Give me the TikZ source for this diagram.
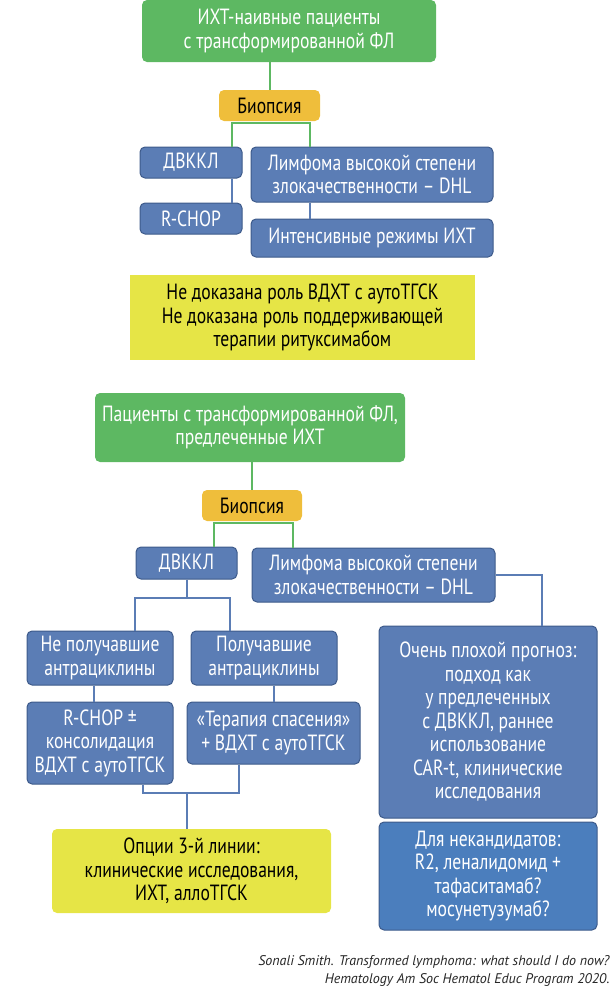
\documentclass[tikz,border=0pt]{standalone}
\usepackage{fontspec}
\setmainfont{PT Sans}[FakeStretch=0.8]
\newfontfamily\citefont{PT Sans}
\usetikzlibrary{calc}
\definecolor{mygreen}{HTML}{5DB862}
\definecolor{myorange}{HTML}{EFBE3B}
\definecolor{myblue}{HTML}{5B7DB5}
\definecolor{mydarkblue}{HTML}{3D5A8A}
\definecolor{mysteel}{HTML}{4B7EBD}
\definecolor{myyellow}{HTML}{E6E546}
\tikzset{
  box/.style={rounded corners=5pt, align=center, inner sep=1pt, text=white,
              font=\fontsize{22}{23.5}\selectfont},
  greenbox/.style={box, fill=mygreen},
  orangebox/.style={box, fill=myorange, text=black},
  bluebox/.style={box, fill=myblue, draw=mydarkblue, line width=1pt},
  steelbox/.style={box, fill=mysteel, draw=mydarkblue, line width=1pt},
  yellowbox/.style={box, fill=myyellow, text=black},
  gline/.style={draw=mygreen, line width=2pt},
  bline/.style={draw=myblue, line width=2pt},
  cite/.style={align=right, text=black!85, font=\citefont\itshape\fontsize{14}{18}\selectfont},
}
\begin{document}
\begin{tikzpicture}[x=1pt, y=-1pt]
  \useasboundingbox (0,0) rectangle (615,996);
  % treatment-naive patients
  \node[greenbox, minimum width=294pt, minimum height=62pt] (g1) at (289,31) {ИХТ-наивные пациенты\\с трансформированной ФЛ};
  \node[orangebox, minimum width=101pt, minimum height=31pt] (b1) at (269.5,105.5) {Биопсия};
  \node[bluebox, minimum width=102pt, minimum height=31pt] (d1) at (191,162.5) {ДВККЛ};
  \node[bluebox, minimum width=102pt, minimum height=31pt] (r1) at (191,218.5) {R-CHOP};
  \node[bluebox, minimum width=242pt, minimum height=55pt] (h1) at (372,174.5) {Лимфома высокой степени\\злокачественности – DHL};
  \node[bluebox, minimum width=242pt, minimum height=38pt] (i1) at (372,238) {Интенсивные режимы ИХТ};
  \node[yellowbox, rounded corners=0pt, minimum width=345pt, minimum height=85pt] (y1) at (302.5,317.5) {Не доказана роль ВДХТ с аутоТГСК\\Не доказана роль поддерживающей\\терапии ритуксимабом};
  \draw[gline] (b1.north) -- (b1.north |- g1.south);
  \draw[gline] ([xshift=41pt]d1.north) |- ([yshift=-2pt]b1.south) -| ([xshift=-62pt]h1.north);
  \draw[bline] ([xshift=41pt]d1.south) -- ([xshift=41pt]r1.north);
  \draw[bline] ([xshift=-62pt]h1.south) -- ([xshift=-62pt]i1.north);
  % pretreated patients
  \node[greenbox, minimum width=310pt, minimum height=69pt] (g2) at (250,427.5) {Пациенты с трансформированной ФЛ,\\предлеченные ИХТ};
  \node[orangebox, minimum width=100pt, minimum height=31pt] (b2) at (252,505.5) {Биопсия};
  \node[bluebox, minimum width=101pt, minimum height=32pt] (d2) at (186.5,563) {ДВККЛ};
  \node[bluebox, minimum width=243pt, minimum height=54pt] (h2) at (373.5,575) {Лимфома высокой степени\\злокачественности – DHL};
  \node[bluebox, minimum width=146pt, minimum height=54pt] (n2) at (100,658) {Не получавшие\\антрациклины};
  \node[bluebox, minimum width=146pt, minimum height=54pt] (p2) at (264,658) {Получавшие\\антрациклины};
  \node[bluebox, minimum width=146pt, minimum height=82pt] (rc2) at (100,743) {R-CHOP ±\\консолидация\\ВДХТ с аутоТГСК};
  \node[bluebox, minimum width=173pt, minimum height=62pt] (t2) at (273.5,733) {«Терапия спасения»\\+ ВДХТ с аутоТГСК};
  \node[yellowbox, minimum width=279pt, minimum height=84pt] (opt) at (191.5,871) {Опции 3-й линии:\\клинические исследования,\\ИХТ, аллоТГСК};
  \node[bluebox, minimum width=218pt, minimum height=192pt] (o2) at (488,722) {Очень плохой прогноз:\\подход как\\у предлеченных\\с ДВККЛ, раннее\\использование\\CAR-t, клинические\\исследования};
  \node[steelbox, minimum width=218pt, minimum height=108pt] (nc2) at (488,876) {Для некандидатов:\\R2, леналидомид +\\тафаситамаб?\\мосунетузумаб?};
  \draw[gline] (b2.north) -- (b2.north |- g2.south);
  \draw[gline] ([xshift=27.5pt]d2.north) |- ([yshift=-2pt]b2.south) -| ([xshift=-80.5pt]h2.north);
  \draw[bline] (h2.east) -| ([xshift=54pt]o2.north);
  \draw[bline] (d2.south) -- ++(0,18) coordinate (dj);
  \draw[bline] ([xshift=35pt]n2.north) |- (dj) -| ([xshift=-34pt]p2.north);
  \draw[bline] ([xshift=-6pt]n2.south) -- ([xshift=-6pt]rc2.north);
  \draw[bline] (t2.north |- p2.south) -- (t2.north);
  \draw[bline] ([xshift=-4.5pt]opt.north) -- ++(0,-36) coordinate (oj);
  \draw[bline] ([xshift=43pt]rc2.south) |- (oj) -| ([xshift=-34.5pt]t2.south);
  % source
  \node[cite, anchor=east] (src) at (613,971) {Sonali Smith. Transformed lymphoma: what should I do now?\\Hematology Am Soc Hematol Educ Program 2020.};
\end{tikzpicture}
\end{document}
